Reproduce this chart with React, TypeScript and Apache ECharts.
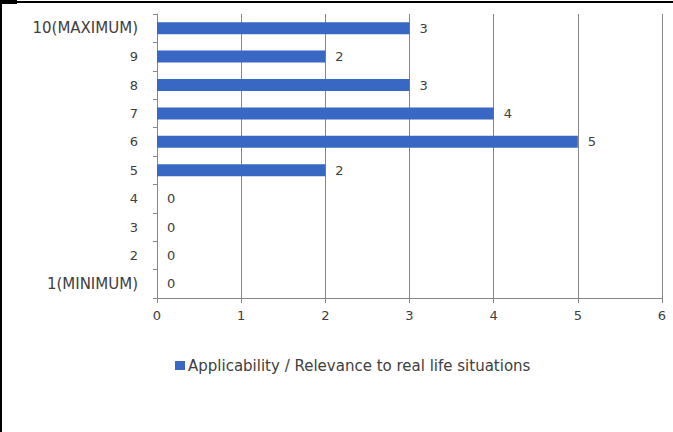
import React, { useEffect, useRef } from "react";
import * as echarts from "echarts";

const categories = ["1(MINIMUM)", "2", "3", "4", "5", "6", "7", "8", "9", "10(MAXIMUM)"];
const values = [0, 0, 0, 0, 2, 5, 4, 3, 2, 3];
const seriesName = "Applicability / Relevance to real life situations";

export default function App() {
  const ref = useRef<HTMLDivElement>(null);
  useEffect(() => {
    if (!ref.current) return;
    const chart = echarts.init(ref.current, undefined, { renderer: "svg" });
    const font = "DejaVu Sans";
    const txt = "#404040";
    const grey = "#868686";
    chart.setOption({
      animation: false,
      backgroundColor: "#ffffff",
      grid: { left: 157, right: 11, top: 14, bottom: 134, containLabel: false },
      legend: {
        data: [seriesName],
        left: 170,
        top: 353,
        icon: "rect",
        itemWidth: 10,
        itemHeight: 9,
        itemGap: 4,
        textStyle: { color: txt, fontSize: 15, fontFamily: font, padding: [0, 0, 0, -2] },
      },
      xAxis: {
        type: "value",
        min: 0,
        max: 6,
        interval: 1,
        axisLine: { show: true, lineStyle: { color: grey, width: 1 } },
        axisTick: { show: true, length: 5, lineStyle: { color: grey } },
        splitLine: { show: true, lineStyle: { color: grey, width: 1 } },
        axisLabel: { color: txt, fontSize: 13, fontFamily: font, margin: 11 },
      },
      yAxis: {
        type: "category",
        data: categories,
        axisLine: { show: true, lineStyle: { color: grey, width: 1 } },
        axisTick: { show: true, length: 4, lineStyle: { color: grey } },
        axisLabel: {
          color: txt,
          fontSize: 13,
          fontFamily: font,
          margin: 19,
          formatter: (v: string) => (v.length > 2 ? `{w|${v}}` : v),
          rich: { w: { fontSize: 15, fontFamily: font, color: txt } },
        },
      },
      series: [
        {
          name: seriesName,
          type: "bar",
          data: values,
          barWidth: 12,
          itemStyle: { color: "#3867c4" },
          label: {
            show: true,
            position: "right",
            distance: 10,
            color: txt,
            fontSize: 13,
            fontFamily: font,
          },
        },
      ],
      graphic: [
        { type: "rect", shape: { x: 0, y: 1, width: 673, height: 2 }, style: { fill: "#000" } },
        { type: "rect", shape: { x: 0, y: 0, width: 2, height: 432 }, style: { fill: "#000" } },
        { type: "rect", shape: { x: 0, y: 0, width: 17, height: 4 }, style: { fill: "#000" } },
      ],
    });
    return () => chart.dispose();
  }, []);
  return (
    <div
      ref={ref}
      style={{ position: "fixed", left: 0, top: 0, width: 673, height: 432 }}
    />
  );
}
